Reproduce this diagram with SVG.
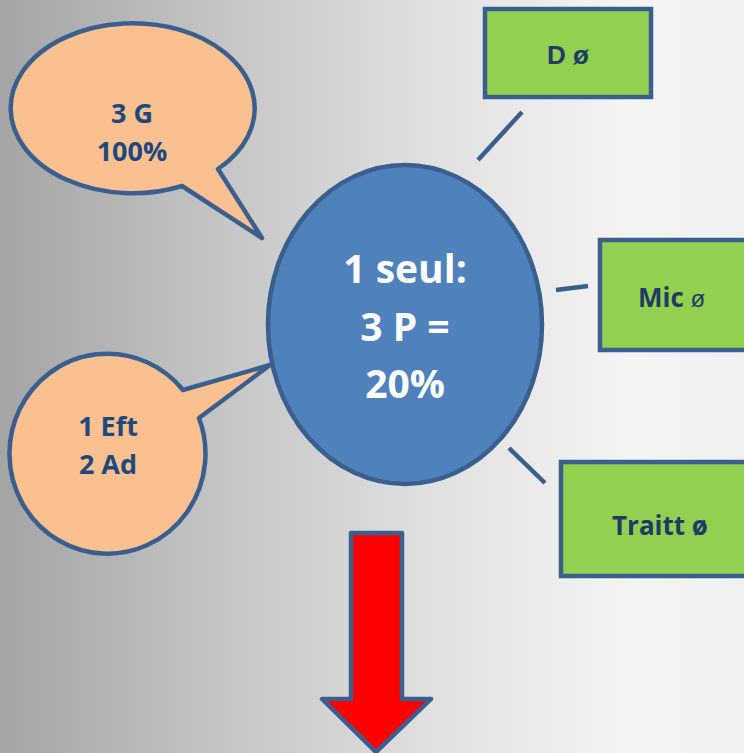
<svg xmlns="http://www.w3.org/2000/svg" width="744" height="753" viewBox="0 0 744 753">
<defs>
<linearGradient id="bg" x1="0" y1="0" x2="1" y2="0">
<stop offset="0" stop-color="#a4a4a4"/>
<stop offset="0.3" stop-color="#c5c5c5"/>
<stop offset="0.6" stop-color="#e2e2e2"/>
<stop offset="0.85" stop-color="#f4f4f4"/>
<stop offset="1" stop-color="#f0f0f0"/>
</linearGradient>
<style>
.outl{stroke:#3a5f8f;stroke-width:4.5;stroke-linejoin:round}
.bub{fill:#fac090}
.box{fill:#92d050;stroke-linejoin:miter}
.conn{stroke:#3a5f8f;stroke-width:4.5;fill:none}
.t{font-family:"Open Sans","Liberation Sans",sans-serif;font-weight:700;fill:#1f497d;text-anchor:middle}
.tw{font-family:"Open Sans","Liberation Sans",sans-serif;font-weight:700;fill:#ffffff;text-anchor:middle;font-size:39px}
</style>
</defs>
<rect x="0" y="0" width="744" height="753" fill="url(#bg)"/>

<g id="bubble-3g">
<path class="outl bub" d="M182,186 A122,85 0 1 1 218,169 L262,238 Z"/>
<text class="t" x="132" y="123" font-size="27">3 G</text>
<text class="t" x="132" y="161" font-size="27">100%</text>
</g>

<g id="bubble-eft">
<path class="outl bub" d="M183,390 A98,100 0 1 0 199,418 L270,365 Z"/>
<text class="t" x="108" y="436" font-size="27">1 Eft</text>
<text class="t" x="108" y="474" font-size="27">2 Ad</text>
</g>

<g id="connectors">
<line class="conn" x1="478" y1="160" x2="522" y2="112"/>
<line class="conn" x1="556" y1="290" x2="588" y2="286"/>
<line class="conn" x1="509" y1="448" x2="545" y2="483"/>
</g>

<g id="center">
<ellipse class="outl" cx="405" cy="324.5" rx="137" ry="159.5" fill="#4f81bd"/>
<text class="tw" x="405" y="283">1 seul:</text>
<text class="tw" x="405" y="341">3 P =</text>
<text class="tw" x="405" y="398">20%</text>
</g>

<g id="box-d">
<rect class="outl box" x="485" y="9" width="166" height="88"/>
<text x="568" y="64" font-family="'Liberation Sans',Arial,sans-serif" font-weight="700" font-size="26" fill="#1f3b66" text-anchor="middle">D ø</text>
</g>

<g id="box-mic">
<rect class="outl box" x="600" y="240" width="160" height="110"/>
<text x="638" y="307" font-family="'Open Sans','Liberation Sans',sans-serif" font-size="26" fill="#1f3b66"><tspan font-weight="700">Mic </tspan><tspan font-size="24" font-family="'Liberation Sans',Arial,sans-serif">ø</tspan></text>
</g>

<g id="box-traitt">
<rect class="outl box" x="561" y="462" width="200" height="114"/>
<text class="t" x="660" y="535" font-size="26" style="fill:#1f3b66">Traitt ø</text>
</g>

<g id="arrow">
<polygon class="outl" points="351,533 402,533 402,699 431,699 376,752 322,699 351,699" fill="#ff0000" stroke-linejoin="miter"/>
</g>
</svg>
